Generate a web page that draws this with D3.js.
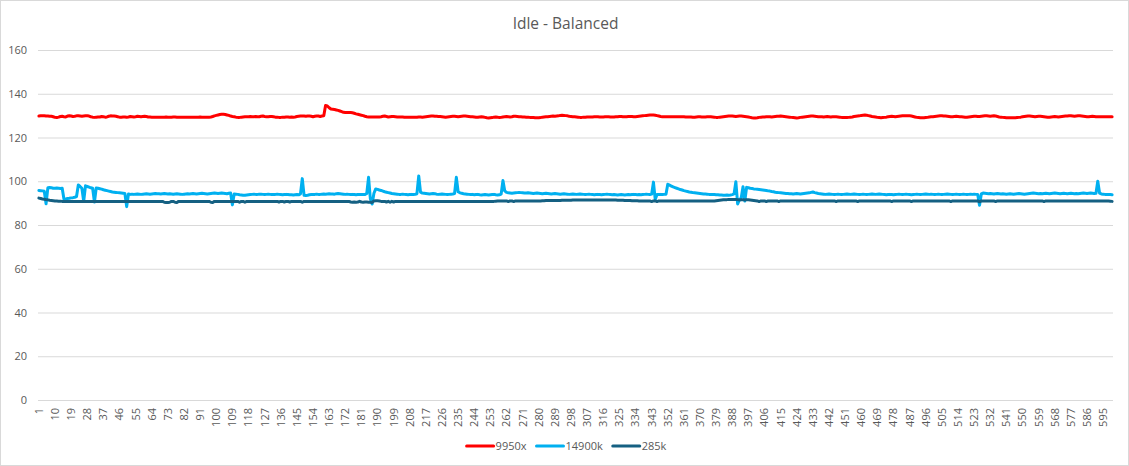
<!DOCTYPE html>
<html>
<head>
<meta charset="utf-8">
<script src="https://cdn.jsdelivr.net/npm/d3@7"></script>
<style>
  body { margin: 0; background: #fff; }
  svg { display: block; font-family: "Open Sans", sans-serif; }
</style>
</head>
<body>
<svg id="chart" width="1129" height="466"></svg>
<script>
// data
var chartTitle = 'Idle - Balanced'
var seriesNames = ['9950x', '14900k', '285k']
var seriesColors = ['#FF0000', '#00B0F0', '#156082']
var yTicks = [0, 20, 40, 60, 80, 100, 120, 140, 160]
var categories = d3.range(1, 601)   // sample numbers 1..600
var labelEvery = 9

var s9950x = [
  129.8,129.9,129.9,129.9,129.8,129.8,129.7,129.7,129.5,129.2,129.1,129.3,129.6,129.7,129.5,129.4,129.8,129.9,129.8,129.6,
  129.7,129.9,129.9,129.8,129.7,129.8,129.9,129.9,129.8,129.5,129.3,129.2,129.3,129.4,129.4,129.6,129.5,129.3,129.4,129.7,
  129.9,129.8,129.8,129.7,129.5,129.3,129.3,129.4,129.4,129.3,129.4,129.6,129.5,129.4,129.5,129.7,129.6,129.5,129.6,129.7,
  129.6,129.4,129.4,129.3,129.3,129.3,129.3,129.3,129.3,129.3,129.3,129.4,129.3,129.3,129.3,129.4,129.4,129.3,129.3,129.3,
  129.3,129.3,129.3,129.3,129.3,129.3,129.3,129.3,129.3,129.3,129.4,129.3,129.3,129.3,129.3,129.3,129.4,129.6,129.9,130.1,
  130.3,130.5,130.6,130.6,130.5,130.3,130.1,129.8,129.6,129.5,129.3,129.2,129.2,129.3,129.4,129.5,129.5,129.5,129.6,129.5,
  129.5,129.6,129.5,129.5,129.7,129.8,129.6,129.5,129.5,129.6,129.6,129.5,129.3,129.3,129.2,129.2,129.3,129.3,129.4,129.4,
  129.3,129.4,129.3,129.4,129.6,129.7,129.8,129.8,129.8,129.7,129.8,129.8,129.7,129.5,129.7,129.8,129.8,129.6,129.8,129.9,
  134.6,134.4,133.6,133.0,132.9,132.8,132.6,132.4,132.1,131.8,131.5,131.4,131.4,131.4,131.4,131.3,131.1,130.8,130.6,130.4,
  130.2,130.0,129.7,129.5,129.4,129.4,129.4,129.4,129.4,129.4,129.4,129.5,129.7,129.8,129.6,129.4,129.5,129.6,129.6,129.5,
  129.4,129.4,129.4,129.4,129.3,129.3,129.3,129.3,129.3,129.3,129.3,129.3,129.4,129.4,129.3,129.4,129.5,129.6,129.7,129.8,
  129.8,129.7,129.7,129.6,129.6,129.5,129.4,129.3,129.4,129.5,129.6,129.7,129.7,129.6,129.5,129.6,129.7,129.8,129.8,129.7,
  129.6,129.5,129.5,129.4,129.3,129.3,129.4,129.5,129.4,129.2,129.0,128.9,129.0,129.1,129.3,129.4,129.3,129.1,129.2,129.4,
  129.5,129.6,129.5,129.4,129.5,129.7,129.7,129.6,129.5,129.5,129.4,129.4,129.3,129.3,129.2,129.2,129.1,129.0,129.0,129.0,
  129.1,129.3,129.4,129.5,129.5,129.6,129.7,129.8,129.7,129.8,129.9,130.1,130.2,130.1,130.0,129.9,129.7,129.6,129.5,129.5,
  129.4,129.3,129.2,129.2,129.3,129.3,129.4,129.4,129.4,129.4,129.5,129.5,129.5,129.4,129.4,129.4,129.5,129.5,129.5,129.4,
  129.4,129.4,129.5,129.5,129.6,129.6,129.5,129.5,129.5,129.6,129.6,129.6,129.5,129.5,129.6,129.7,129.8,129.9,130.0,130.1,
  130.2,130.3,130.3,130.3,130.2,130.0,129.8,129.6,129.5,129.5,129.5,129.5,129.5,129.5,129.5,129.5,129.5,129.5,129.5,129.5,
  129.5,129.4,129.4,129.4,129.4,129.3,129.3,129.4,129.5,129.5,129.4,129.4,129.4,129.5,129.5,129.5,129.4,129.3,129.2,129.2,
  129.3,129.4,129.5,129.6,129.7,129.8,129.8,129.8,129.7,129.6,129.7,129.8,129.8,129.7,129.6,129.5,129.4,129.2,129.0,128.9,
  128.9,129.0,129.2,129.3,129.4,129.4,129.5,129.5,129.5,129.4,129.5,129.6,129.7,129.7,129.8,129.7,129.6,129.5,129.4,129.3,
  129.2,129.1,129.0,128.9,129.0,129.2,129.3,129.4,129.5,129.6,129.7,129.8,129.8,129.7,129.6,129.5,129.5,129.5,129.4,129.5,
  129.6,129.5,129.4,129.5,129.5,129.5,129.4,129.3,129.2,129.2,129.1,129.1,129.2,129.3,129.4,129.6,129.7,129.8,129.9,130.1,
  130.2,130.3,130.2,130.0,129.8,129.6,129.5,129.4,129.2,129.1,129.0,129.1,129.2,129.3,129.5,129.6,129.7,129.6,129.5,129.6,
  129.7,129.8,129.9,130.0,130.0,130.0,129.9,129.8,129.6,129.4,129.2,129.1,129.0,129.0,129.0,129.1,129.2,129.4,129.5,129.5,
  129.6,129.7,129.8,129.9,129.9,129.8,129.8,129.7,129.6,129.5,129.5,129.6,129.7,129.6,129.5,129.5,129.4,129.3,129.3,129.4,
  129.5,129.6,129.7,129.7,129.6,129.6,129.7,129.8,129.9,129.9,129.8,129.7,129.8,129.9,129.8,129.6,129.4,129.3,129.2,129.1,
  129.0,129.0,129.0,129.0,129.0,129.0,129.1,129.2,129.3,129.5,129.6,129.7,129.8,129.8,129.7,129.6,129.5,129.6,129.7,129.7,
  129.6,129.5,129.4,129.3,129.3,129.4,129.5,129.6,129.5,129.4,129.5,129.6,129.7,129.8,129.8,129.9,129.9,129.8,129.7,129.8,
  129.9,129.9,129.8,129.7,129.6,129.5,129.5,129.6,129.7,129.6,129.5,129.5,129.5,129.5,129.5,129.5,129.5,129.5,129.5,129.5
]

var s14900k = [
  95.8,95.7,95.6,95.4,89.7,97.0,97.1,97.0,96.8,96.8,96.9,96.8,96.7,96.8,91.8,91.9,92.1,92.2,92.4,92.5,
  92.7,93.0,98.3,97.6,96.8,90.8,97.9,97.6,97.3,97.0,96.8,90.5,96.9,96.8,96.6,96.4,96.1,95.9,95.7,95.5,
  95.3,95.1,95.0,94.9,94.8,94.7,94.6,94.5,94.4,88.4,94.2,94.0,94.1,94.0,94.1,94.2,94.1,94.0,94.1,94.2,
  94.3,94.2,94.1,94.2,94.3,94.4,94.3,94.3,94.2,94.3,94.4,94.3,94.2,94.3,94.2,94.1,94.2,94.3,94.2,94.1,
  94.0,94.1,94.2,94.3,94.2,94.3,94.4,94.3,94.2,94.3,94.4,94.5,94.4,94.3,94.2,94.3,94.4,94.5,94.6,94.5,
  94.4,94.5,94.6,94.5,94.4,94.3,94.5,94.6,89.2,94.2,94.1,94.0,93.8,93.7,93.6,93.6,93.7,93.8,93.9,94.0,
  94.1,94.0,94.0,94.1,94.1,94.0,93.9,94.0,94.1,94.0,93.9,94.0,94.0,94.1,94.0,93.9,93.8,93.9,94.0,93.9,
  93.8,93.8,93.7,93.8,93.9,93.8,94.2,101.2,93.6,93.5,93.6,93.8,93.9,94.0,94.0,94.1,94.0,94.0,94.1,94.2,
  94.1,94.2,94.3,94.2,94.2,94.1,94.3,94.4,94.3,94.2,94.1,94.0,94.1,94.0,93.9,94.0,93.9,93.8,93.9,94.0,
  94.0,93.9,93.9,94.4,101.8,92.0,89.6,94.5,96.5,96.3,96.0,95.8,95.5,95.2,95.0,94.8,94.6,94.4,94.3,94.2,
  94.1,94.0,94.0,94.1,94.0,93.9,93.8,93.9,94.0,93.9,94.0,94.3,102.4,95.0,94.6,94.5,94.4,94.3,94.2,94.3,
  94.4,94.3,94.1,94.0,94.1,94.2,94.1,94.0,93.9,94.0,94.1,94.2,94.4,101.8,95.2,94.7,94.5,94.3,94.2,94.1,
  94.0,93.9,94.0,93.8,93.9,94.0,93.8,93.7,93.8,93.9,93.8,93.7,93.8,93.9,94.0,93.8,93.7,93.8,94.1,100.3,
  95.6,94.9,94.7,94.6,94.5,94.6,94.7,94.8,94.9,94.8,94.7,94.6,94.6,94.7,94.6,94.5,94.4,94.5,94.6,94.5,
  94.4,94.3,94.4,94.5,94.4,94.3,94.2,94.3,94.4,94.3,94.2,94.1,94.2,94.3,94.2,94.1,94.0,94.1,94.2,94.1,
  94.0,94.1,94.2,94.1,94.0,93.9,94.0,94.1,94.0,93.9,93.8,93.9,94.0,93.9,93.8,93.9,94.0,94.1,94.0,93.9,
  93.8,93.9,93.8,93.7,93.8,93.9,93.8,93.7,93.8,93.9,93.8,93.9,94.0,93.9,93.8,93.9,93.8,93.9,94.0,94.1,
  94.0,93.9,94.1,99.6,91.7,93.9,93.9,94.0,93.9,94.0,94.1,98.6,98.2,97.8,97.4,97.1,96.8,96.5,96.2,96.0,
  95.7,95.5,95.3,95.1,95.0,94.8,94.7,94.6,94.5,94.4,94.3,94.2,94.2,94.1,94.0,94.0,93.9,93.9,93.8,93.8,
  93.7,93.7,93.6,93.6,93.7,93.6,93.7,93.9,94.2,99.8,89.6,91.5,92.5,97.5,91.0,97.2,97.0,96.8,96.7,96.5,
  96.4,96.3,96.2,96.1,96.0,95.9,95.8,95.6,95.5,95.3,95.2,95.0,94.9,94.8,94.7,94.6,94.5,94.4,94.4,94.3,
  94.3,94.2,94.3,94.4,94.3,94.2,94.3,94.4,94.5,94.6,94.7,94.9,95.1,94.8,94.6,94.4,94.3,94.2,94.1,94.0,
  94.1,94.2,94.1,94.0,93.9,94.0,94.1,94.0,93.9,94.0,94.1,94.2,94.1,94.0,94.1,94.2,94.1,94.0,93.9,94.0,
  94.1,94.0,93.9,94.0,94.1,94.2,94.1,94.0,94.1,94.2,94.1,94.0,93.9,93.8,93.9,94.0,93.9,93.8,93.9,94.0,
  94.1,94.0,93.9,94.0,94.1,94.0,93.9,93.8,93.9,94.0,94.1,94.0,93.9,94.0,94.1,94.2,94.1,94.0,94.1,94.0,
  93.9,94.0,94.1,94.0,93.9,94.0,94.1,94.2,94.1,94.0,93.9,94.0,94.1,94.0,93.9,94.0,94.1,94.0,93.9,94.0,
  94.1,94.0,94.1,94.0,93.9,89.0,94.2,94.6,94.5,94.4,94.3,94.4,94.3,94.2,94.3,94.4,94.3,94.2,94.3,94.2,
  94.1,94.2,94.3,94.2,94.1,94.2,94.3,94.4,94.3,94.2,94.1,94.2,94.3,94.4,94.5,94.6,94.5,94.4,94.3,94.4,
  94.3,94.4,94.5,94.4,94.3,94.4,94.5,94.6,94.5,94.4,94.3,94.4,94.5,94.4,94.3,94.4,94.5,94.4,94.3,94.4,
  94.3,94.4,94.5,94.6,94.5,94.4,94.5,94.6,94.5,94.4,94.5,100.0,94.6,94.2,94.1,94.0,94.0,93.9,93.9,93.8
]

var s285k = [
  92.3,92.1,91.9,91.8,91.6,91.5,91.3,91.2,91.1,91.0,91.0,90.9,90.9,90.8,90.8,90.8,90.8,90.8,90.8,90.8,
  90.8,90.8,90.8,90.8,90.8,90.8,90.8,90.8,90.8,90.8,90.8,90.8,90.8,90.8,90.8,90.8,90.8,90.8,90.8,90.8,
  90.8,90.8,90.8,90.8,90.8,90.8,90.8,90.8,90.8,90.8,90.8,90.8,90.8,90.8,90.8,90.8,90.8,90.8,90.8,90.8,
  90.8,90.8,90.8,90.8,90.8,90.8,90.8,90.8,90.8,90.8,90.4,90.3,90.3,90.4,90.8,90.8,90.4,90.3,90.8,90.8,
  90.8,90.8,90.8,90.8,90.8,90.8,90.8,90.8,90.8,90.8,90.8,90.8,90.8,90.8,90.8,90.8,90.4,90.3,90.8,90.8,
  90.8,90.8,90.8,90.8,90.8,90.8,90.8,90.8,90.8,90.8,90.8,90.8,90.4,90.8,90.8,90.4,90.8,90.8,90.8,90.8,
  90.8,90.8,90.8,90.8,90.8,90.8,90.8,90.8,90.8,90.8,90.8,90.8,90.8,90.8,90.5,90.8,90.8,90.5,90.8,90.8,
  90.5,90.8,90.8,90.8,90.8,90.8,90.8,90.4,90.8,90.8,90.8,90.8,90.8,90.8,90.8,90.8,90.8,90.8,90.8,90.8,
  90.8,90.8,90.8,90.8,90.8,90.8,90.8,90.8,90.8,90.8,90.8,90.8,90.8,90.8,90.5,90.4,90.5,90.4,90.5,90.8,
  90.5,90.4,90.5,90.5,90.4,90.4,90.3,91.0,91.1,91.1,91.0,90.8,90.8,90.8,90.5,90.8,90.4,90.8,90.5,90.8,
  90.8,90.8,90.8,90.8,90.8,90.8,90.8,90.8,90.8,90.8,90.8,90.8,90.8,90.8,90.8,90.8,90.8,90.8,90.8,90.8,
  90.8,90.8,90.8,90.8,90.8,90.8,90.8,90.8,90.8,90.8,90.8,90.8,90.8,90.8,90.8,90.8,90.8,90.8,90.8,90.8,
  90.8,90.8,90.8,90.8,90.8,90.8,90.8,90.8,90.8,90.8,90.8,90.8,90.8,90.8,90.8,90.9,91.0,91.0,91.0,91.0,
  91.0,91.0,90.7,91.0,91.0,90.7,91.0,91.0,91.0,91.0,91.0,91.0,91.0,91.0,91.0,91.0,91.0,91.0,91.0,91.0,
  91.0,91.1,91.1,91.2,91.2,91.2,91.2,91.2,91.2,91.2,91.2,91.2,91.3,91.3,91.3,91.3,91.3,91.3,91.4,91.4,
  91.4,91.4,91.4,91.4,91.4,91.4,91.4,91.4,91.4,91.4,91.4,91.4,91.4,91.4,91.4,91.4,91.4,91.4,91.4,91.4,
  91.4,91.4,91.4,91.3,91.3,91.3,91.3,91.2,91.2,91.2,91.2,91.1,91.1,91.1,91.1,91.0,91.0,91.0,91.0,91.0,
  91.0,91.0,90.7,91.0,91.0,90.7,91.0,91.0,91.0,91.0,91.0,91.0,91.0,91.0,91.0,91.0,91.0,91.0,91.0,91.0,
  91.0,91.0,91.0,91.0,91.0,91.0,91.0,91.0,91.0,91.0,91.0,91.0,91.0,91.0,91.0,91.0,91.0,91.0,91.1,91.2,
  91.3,91.4,91.5,91.6,91.6,91.7,91.7,91.7,91.7,91.7,91.6,91.4,91.6,91.6,91.4,91.6,91.5,91.4,91.3,91.2,
  91.1,91.0,90.7,91.0,91.0,91.0,90.7,91.0,91.0,91.0,91.0,91.0,91.0,90.7,91.0,91.0,91.0,91.0,91.0,91.0,
  91.0,91.0,91.0,91.0,91.0,91.0,91.0,91.0,91.0,91.0,91.0,91.0,91.0,91.0,91.0,91.0,91.0,91.0,91.0,91.0,
  91.0,91.0,91.0,91.0,91.0,90.7,91.0,91.0,91.0,91.0,91.0,91.0,91.0,91.0,91.0,91.0,91.0,90.7,91.0,91.0,
  91.0,91.0,91.0,91.0,91.0,91.0,91.0,91.0,91.0,91.0,91.0,91.0,91.0,91.0,91.0,91.0,90.7,91.0,91.0,91.0,
  91.0,91.0,91.0,91.0,91.0,91.0,91.0,90.7,91.0,91.0,91.0,91.0,91.0,91.0,91.0,91.0,91.0,91.0,91.0,91.0,
  91.0,91.0,91.0,91.0,91.0,91.0,91.0,91.0,91.0,90.7,91.0,91.0,91.0,91.0,91.0,91.0,91.0,91.0,91.0,91.0,
  91.0,91.0,91.0,91.0,91.0,90.6,91.0,91.0,91.0,91.0,91.0,91.0,91.0,91.0,90.7,91.0,91.0,91.0,91.0,91.0,
  91.0,91.0,91.0,91.0,91.0,91.0,91.0,91.0,91.0,91.0,91.0,91.0,91.0,91.0,91.0,91.0,91.0,91.0,91.0,91.0,
  91.0,90.7,91.0,91.0,91.0,91.0,91.0,91.0,91.0,91.0,91.0,91.0,91.0,91.0,91.0,91.0,91.0,91.0,91.0,91.0,
  91.0,91.0,91.0,91.0,91.0,91.0,91.0,91.0,91.0,91.0,91.0,91.0,91.0,91.0,91.0,91.0,91.0,91.0,90.9,90.8
]

var seriesValues = [s9950x, s14900k, s285k]

// layout
var W = 1129, H = 466
var plot = { left: 38, right: 1113, top: 50, bottom: 400 }

var svg = d3.select('#chart')

svg.append('rect')
  .attr('x', 0.5).attr('y', 0.5)
  .attr('width', W - 1).attr('height', H - 1)
  .attr('fill', '#fff')
  .attr('stroke', '#D9D9D9')

svg.append('text')
  .attr('x', W / 2 + 1)
  .attr('y', 29)
  .attr('text-anchor', 'middle')
  .attr('fill', '#595959')
  .style('font-size', '15.5px')
  .text(chartTitle)

var x = d3.scaleBand()
  .domain(categories)
  .range([plot.left, plot.right])

var y = d3.scaleLinear()
  .domain([0, 160])
  .range([plot.bottom, plot.top])

// y gridlines + labels
var yAxis = svg.append('g')
  .attr('transform', 'translate(' + plot.left + ',0)')
  .call(d3.axisLeft(y)
    .tickValues(yTicks)
    .tickSize(-(plot.right - plot.left))
    .tickPadding(11))
yAxis.select('.domain').remove()
yAxis.selectAll('line').attr('stroke', '#D9D9D9')
yAxis.selectAll('text')
  .attr('fill', '#595959')
  .style('font-size', '11px')
  .style('font-family', '"Open Sans", sans-serif')

// x labels
var xAxis = svg.append('g')
  .attr('transform', 'translate(0,' + plot.bottom + ')')
  .call(d3.axisBottom(x)
    .tickValues(categories.filter((c, i) => i % labelEvery === 0))
    .tickSize(0))
xAxis.select('.domain').remove()
xAxis.selectAll('text')
  .attr('fill', '#595959')
  .style('font-size', '11px')
  .style('font-family', '"Open Sans", sans-serif')
  .attr('text-anchor', 'end')
  .attr('dy', '0.35em')
  .attr('transform', 'translate(0,8) rotate(-90)')
  .attr('x', 0)
  .attr('y', 0)

// lines
var line = d3.line()
  .x((d, i) => x(categories[i]) + x.bandwidth() / 2)
  .y(d => y(d))

svg.append('g')
  .selectAll('path')
  .data(seriesValues)
  .enter()
  .append('path')
  .attr('d', line)
  .attr('fill', 'none')
  .attr('stroke', (d, i) => seriesColors[i])
  .attr('stroke-width', 3)
  .attr('stroke-linejoin', 'round')
  .attr('stroke-linecap', 'round')

// legend
var legend = svg.append('g')
var lx = 0
seriesNames.forEach((name, i) => {
  var g = legend.append('g').attr('transform', 'translate(' + lx + ',0)')
  g.append('line')
    .attr('x1', 0).attr('x2', 27)
    .attr('y1', 0).attr('y2', 0)
    .attr('stroke', seriesColors[i])
    .attr('stroke-width', 3)
    .attr('stroke-linecap', 'round')
  var t = g.append('text')
    .attr('x', 29)
    .attr('y', 4)
    .attr('fill', '#595959')
    .style('font-size', '11px')
    .text(name)
  lx += 29 + t.node().getComputedTextLength() + 10
})
var legendWidth = lx - 10
legend.attr('transform', 'translate(' + (W / 2 + 2 - legendWidth / 2) + ',446)')
</script>
</body>
</html>
